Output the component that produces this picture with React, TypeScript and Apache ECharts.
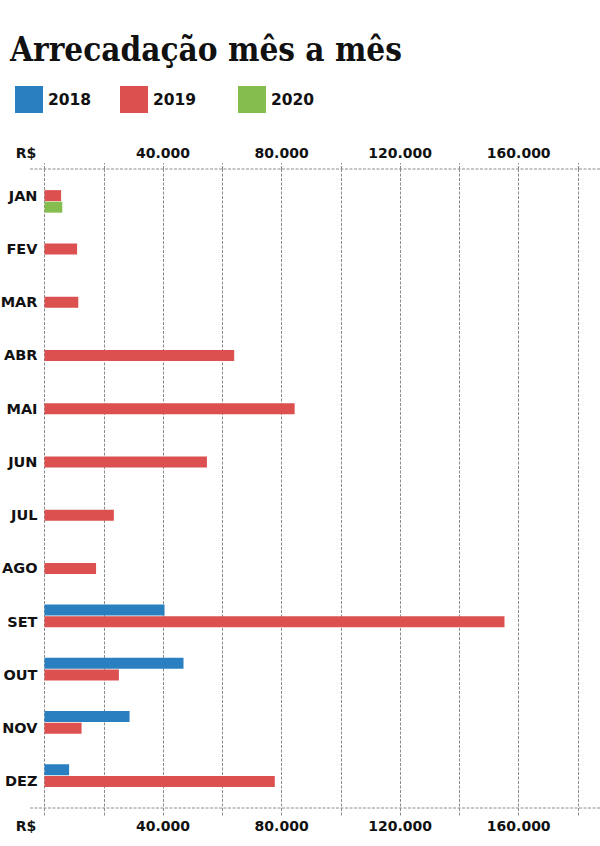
import React, { useEffect, useRef } from "react";
import * as echarts from "echarts";

const months = ["JAN", "FEV", "MAR", "ABR", "MAI", "JUN", "JUL", "AGO", "SET", "OUT", "NOV", "DEZ"];
const years = ["2018", "2019", "2020"];
const values2018 = [null, null, null, null, null, null, null, null, 40500, 46900, 28700, 8300];
const values2019 = [5600, 11000, 11400, 64000, 84400, 54800, 23400, 17400, 155200, 25100, 12500, 77700];
const values2020 = [6000, null, null, null, null, null, null, null, null, null, null, null];
const colors = ["#2a7fc1", "#dc5050", "#86bd4f"];
const tickValues = [40000, 80000, 120000, 160000];

const fmt = (v: number) => {
  if (!tickValues.includes(v)) return "";
  const s = String(v);
  return s.slice(0, s.length - 3) + "." + s.slice(s.length - 3);
};

const labelFont = "DejaVu Sans";
const dash = [3, 1.5];
const gridColor = "#8c8c8c";

export default function App() {
  const ref = useRef<HTMLDivElement>(null);
  useEffect(() => {
    if (!ref.current) return;
    const chart = echarts.init(ref.current, undefined, { renderer: "svg" });
    const axisCommon = {
      type: "value" as const,
      min: 0,
      max: 180000,
      interval: 20000,
      gridIndex: 0,
      axisLine: { show: false },
      axisLabel: {
        formatter: fmt,
        fontFamily: labelFont,
        fontWeight: "bold" as const,
        fontSize: 14,
        color: "#111",
      },
    };
    chart.setOption({
      animation: false,
      backgroundColor: "#ffffff",
      title: {
        text: "Arrecadação mês a mês",
        left: 10,
        top: 33,
        padding: 0,
        textStyle: {
          fontFamily: "DejaVu Serif Condensed",
          fontWeight: "bold",
          fontSize: 33,
          color: "#111",
        },
      },
      legend: years.map((y, i) => ({
        data: [y],
        left: [15, 120, 238][i],
        top: 86,
        padding: 0,
        itemWidth: 28,
        itemHeight: 27,
        icon: "rect",
        selectedMode: false,
        textStyle: { fontFamily: labelFont, fontWeight: "bold", fontSize: 15.5, color: "#111" },
      })),
      grid: { left: 44.5, right: 22, top: 169, bottom: 38, containLabel: false, outerBoundsMode: "none" },
      xAxis: [
        {
          ...axisCommon,
          position: "top",
          axisLabel: { ...axisCommon.axisLabel, margin: 9 },
          axisTick: { show: true, length: 6, lineStyle: { color: gridColor, type: dash, width: 1 } },
          splitLine: { show: true, lineStyle: { color: gridColor, type: dash, width: 1 } },
        },
        {
          ...axisCommon,
          position: "bottom",
          axisLabel: { ...axisCommon.axisLabel, margin: 11 },
          axisTick: { show: true, length: 9, lineStyle: { color: gridColor, type: dash, width: 1 } },
          splitLine: { show: false },
        },
      ],
      yAxis: {
        type: "category",
        data: months,
        inverse: true,
        axisLine: { show: false },
        axisTick: { show: false },
        splitLine: { show: false },
        axisLabel: {
          margin: 7,
          fontFamily: labelFont,
          fontWeight: "bold",
          fontSize: 14.5,
          color: "#111",
        },
      },
      series: [values2018, values2019, values2020].map((d, i) => ({
        name: years[i],
        type: "bar",
        xAxisIndex: 0,
        data: d,
        barWidth: 11,
        barGap: "5%",
        itemStyle: { color: colors[i] },
      })),
      graphic: [
        { type: "line", shape: { x1: 30, y1: 169, x2: 600, y2: 169 }, style: { stroke: gridColor, lineWidth: 1, lineDash: dash }, silent: true },
        { type: "line", shape: { x1: 30, y1: 808, x2: 600, y2: 808 }, style: { stroke: gridColor, lineWidth: 1, lineDash: dash }, silent: true },
        { type: "text", x: 26, y: 153, style: { text: "R$", fontFamily: labelFont, fontWeight: "bold", fontSize: 14, fill: "#111", textAlign: "center", textVerticalAlign: "middle" } },
        { type: "text", x: 26, y: 826, style: { text: "R$", fontFamily: labelFont, fontWeight: "bold", fontSize: 14, fill: "#111", textAlign: "center", textVerticalAlign: "middle" } },
      ],
    });
    return () => chart.dispose();
  }, []);
  return <div ref={ref} style={{ position: "fixed", left: 0, top: 0, width: 600, height: 846 }} />;
}
